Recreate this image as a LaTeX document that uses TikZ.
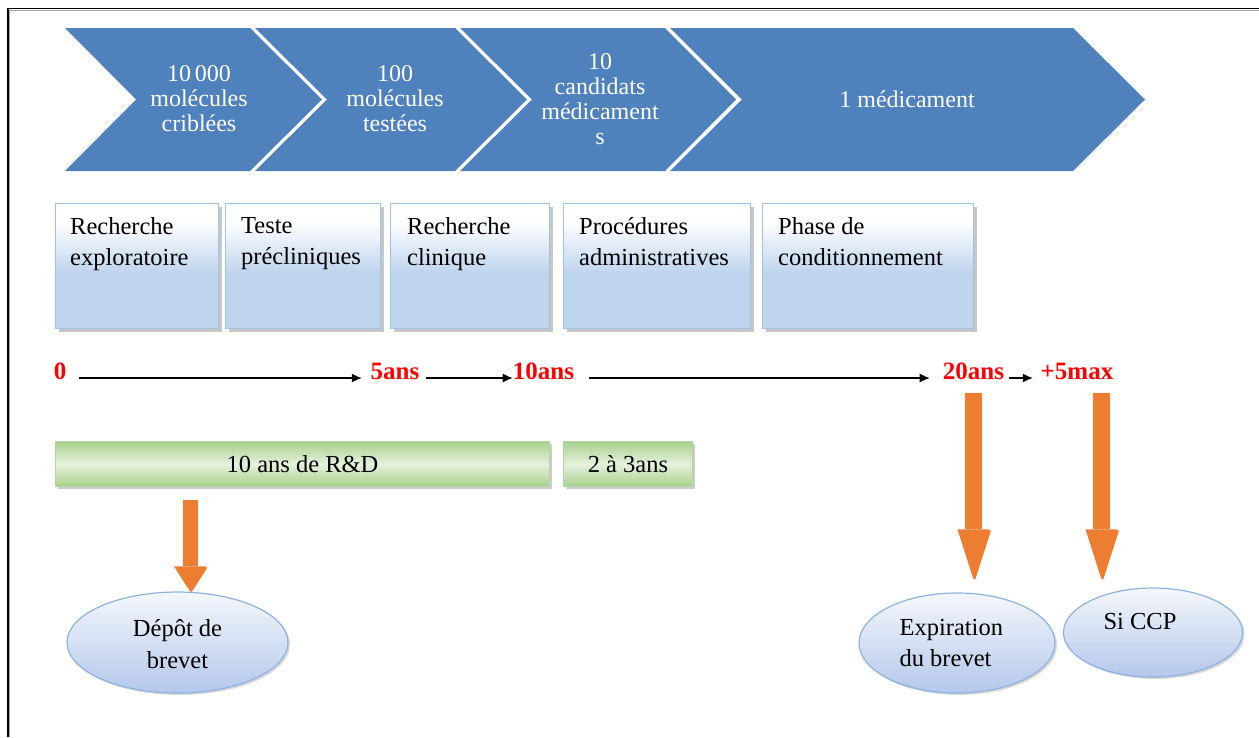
\documentclass[tikz,border=0pt]{standalone}
\usepackage{fontspec}
\setmainfont{Liberation Serif}
\usetikzlibrary{shapes.geometric,shadows,arrows.meta,calc}

\definecolor{chevblue}{RGB}{79,129,189}
\definecolor{boxblue}{RGB}{190,212,237}
\definecolor{boxedge}{RGB}{157,195,230}
\definecolor{barlight}{RGB}{229,241,221}
\definecolor{bargreen}{RGB}{168,208,142}
\definecolor{baredge}{RGB}{178,212,160}
\definecolor{arroworange}{RGB}{237,125,49}
\definecolor{arrowdark}{RGB}{170,85,30}
\definecolor{ovaltop}{RGB}{244,247,252}
\definecolor{ovalbottom}{RGB}{180,200,234}
\definecolor{ovaledge}{RGB}{141,179,226}
\definecolor{yearred}{RGB}{255,0,0}

% white at the top fading to light blue in the lower half
\pgfdeclareverticalshading{boxshade}{100bp}{color(0bp)=(boxblue); color(25bp)=(boxblue); color(47bp)=(boxblue); color(68bp)=(white); color(100bp)=(white)}

\begin{document}
\begin{tikzpicture}[x=1pt,y=-1pt,
  chev/.style={fill=chevblue},
  chevtext/.style={text=white, align=center, inner sep=0pt,
    font=\fontsize{24}{25}\selectfont},
  stepbox/.style={shading=boxshade, draw=boxedge, line width=1.2pt,
    anchor=north west, minimum height=125pt,
    drop shadow={shadow xshift=3pt, shadow yshift=-3pt, fill=black!40, opacity=0.55}},
  boxtext/.style={align=left, inner sep=0pt, font=\fontsize{24.5}{31.5}\selectfont},
  year/.style={text=yearred, inner sep=0pt, anchor=base,
    font=\fontsize{25}{25}\selectfont\bfseries},
  tlarrow/.style={line width=1.2pt, -{Latex[length=10pt,width=9pt]}},
  durbar/.style={top color=bargreen, bottom color=bargreen, middle color=barlight,
    draw=baredge, line width=1pt, anchor=north west, minimum height=45pt,
    inner sep=0pt, font=\fontsize{24.5}{25}\selectfont,
    drop shadow={shadow xshift=2.5pt, shadow yshift=-2.5pt, fill=black!40, opacity=0.5}},
  oval/.style={ellipse, top color=ovaltop, bottom color=ovalbottom,
    draw=ovaledge, line width=1.2pt, inner sep=0pt,
    drop shadow={shadow xshift=2pt, shadow yshift=-2pt, fill=black!35, opacity=0.45}},
  bigarrow/.style={draw=arroworange, line width=#1, line cap=butt,
    preaction={draw=arrowdark!80, transform canvas={xshift=1.5pt, yshift=-1pt}}},
]
\useasboundingbox (0,0) rectangle (1259,737);

% page frame (top and left edges)
\draw[black!35, line width=1pt] (9.6,737) -- (9.6,10.2) -- (1259,10.2);
\draw[black, line width=1.6pt] (8,737) -- (8,8.5) -- (1259,8.5);

% chevron process bar
\fill[chev] (65,28) -- (250,28) -- (322,99.5) -- (250,171) -- (65,171) -- (136,99.5) -- cycle;
\fill[chev] (255,28) -- (455,28) -- (527,99.5) -- (455,171) -- (255,171) -- (327,99.5) -- cycle;
\fill[chev] (460,28) -- (665,28) -- (736,99.5) -- (665,171) -- (460,171) -- (532,99.5) -- cycle;
\fill[chev] (670,28) -- (1073,28) -- (1145,99.5) -- (1073,171) -- (670,171) -- (742,99.5) -- cycle;

\node[chevtext] (c1) at (199,98.5) {10\,000\\molécules\\criblées};
\node[chevtext] (c2) at (395,98.5) {100\\molécules\\testées};
\node[chevtext] (c3) at (600,99.5) {10\\candidats\\médicament\\s};
\node[chevtext] (c4) at (907,99) {1 médicament};

% phase boxes
\node[stepbox, minimum width=163pt] (b1) at (55,203) {};
\node[stepbox, minimum width=155pt] (b2) at (225,203) {};
\node[stepbox, minimum width=159pt] (b3) at (390,203) {};
\node[stepbox, minimum width=187pt] (b4) at (563,203) {};
\node[stepbox, minimum width=211pt] (b5) at (762,203) {};

\node[boxtext, anchor=north west] (t1) at ($(b1.north west)+(15,14)$) {Recherche\\exploratoire};
\node[boxtext, anchor=north west] (t2) at ($(b2.north west)+(16,14)$) {Teste\\précliniques};
\node[boxtext, anchor=north west] (t3) at ($(b3.north west)+(17,14)$) {Recherche\\clinique};
\node[boxtext, anchor=north west] (t4) at ($(b4.north west)+(16,14)$) {Procédures\\administratives};
\node[boxtext, anchor=north west] (t5) at ($(b5.north west)+(16,14)$) {Phase de\\conditionnement};

% time line
\node[year] (y0) at (60,379.5) {0};
\node[year] (y5) at (395,379.5) {5ans};
\node[year] (y10) at (543.5,379.5) {10ans};
\node[year] (y20) at (973.5,379.5) {20ans};
\node[year] (y25) at (1077,379.5) {+5max};

\draw[tlarrow, shorten <=12.7pt, shorten >=8.7pt]
  ([yshift=1.5pt]y0.base east) -- ([yshift=1.5pt]y5.base west);
\draw[tlarrow, shorten <=6.7pt, shorten >=0pt]
  ([yshift=1.5pt]y5.base east) -- ([yshift=1.5pt]y10.base west);
\draw[tlarrow, shorten <=15pt, shorten >=13pt]
  ([yshift=1.5pt]y10.base east) -- ([yshift=1.5pt]y20.base west);
\draw[tlarrow, shorten <=5pt, shorten >=7.7pt]
  ([yshift=1.5pt]y20.base east) -- ([yshift=1.5pt]y25.base west);

% duration bars
\node[durbar, minimum width=494pt] (bar1) at (55,441) {10 ans de R\&D};
\node[durbar, minimum width=129pt] (bar2) at (563,441) {2 à 3ans};

% milestones
\node[oval, minimum width=221pt, minimum height=101pt] (e1) at (177.5,642.5) {};
\node[boxtext, align=center] (e1t) at (177.5,644) {Dépôt de\\brevet};
\node[oval, minimum width=196pt, minimum height=100pt] (e2) at (957,643) {};
\node[boxtext, anchor=west] (e2t) at ($(e2.west)+(41,0)$) {Expiration\\du brevet};
\node[oval, minimum width=179pt, minimum height=89pt] (e3) at (1153,632.5) {};
\node[boxtext] (e3t) at ($(e3.center)+(-13,-11.5)$) {Si CCP};

% orange block arrows
\coordinate (a1) at ([xshift=135pt,yshift=-13pt]bar1.south west);
\coordinate (a2) at ([yshift=-13.5pt]y20.base);
\coordinate (a3) at ([xshift=24.5pt,yshift=-13.5pt]y25.base);
\draw[bigarrow=15pt, -{Triangle[length=25pt,width=32pt,line width=0pt,fill=arroworange]}]
  (a1) -- (a1 |- e1.north);
\draw[bigarrow=17pt, shorten >=13pt, -{Triangle[length=50pt,width=32pt,line width=0pt,fill=arroworange]}]
  (a2) -- (a2 |- e2.north);
\draw[bigarrow=17pt, shorten >=8pt, -{Triangle[length=50pt,width=32pt,line width=0pt,fill=arroworange]}]
  (a3) -- (a3 |- e3.north);
\end{tikzpicture}
\end{document}
